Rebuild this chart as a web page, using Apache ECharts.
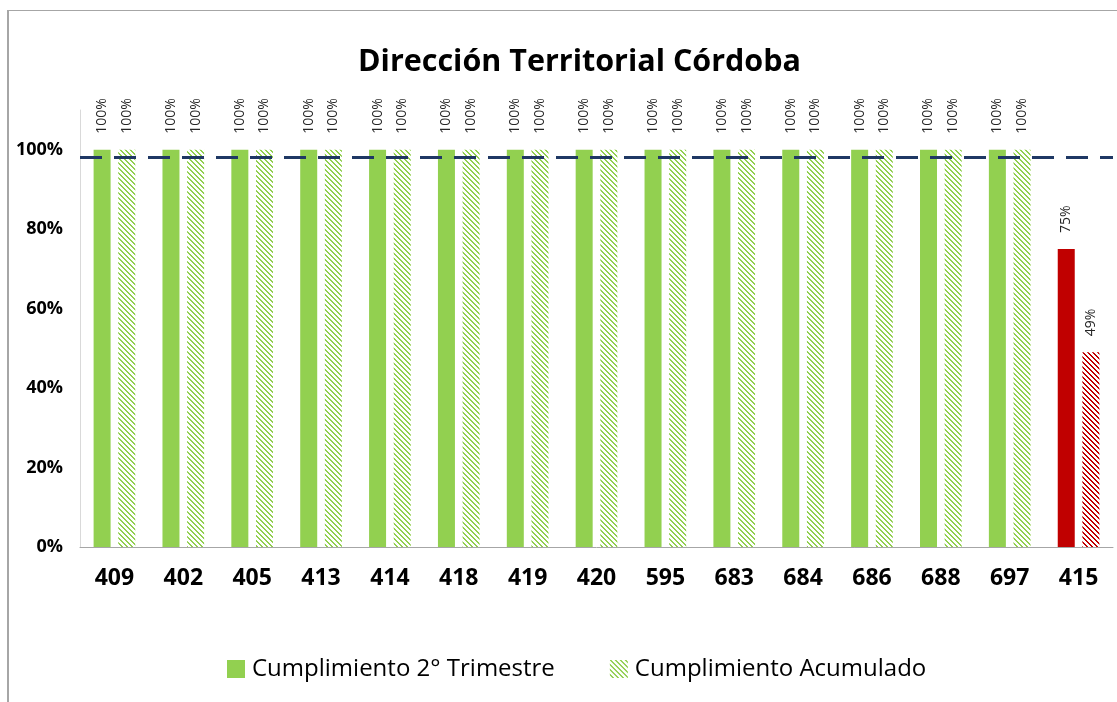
<!DOCTYPE html>
<html>
<head>
<meta charset="utf-8">
<script src="https://cdn.jsdelivr.net/npm/echarts@6/dist/echarts.min.js"></script>
<style>
  html, body { margin: 0; padding: 0; background: #fff; }
  #frame { position: absolute; left: 7px; top: 10px; width: 1120px; height: 700px;
           border-left: 2px solid #a6a6a6; border-top: 1px solid #a6a6a6; }
  #chart { position: absolute; left: 0; top: 0; width: 1117px; height: 702px; }
</style>
</head>
<body>
<div id="frame"></div>
<div id="chart"></div>
<script>
var categories = ['409', '402', '405', '413', '414', '418', '419', '420', '595', '683', '684', '686', '688', '697', '415'];
var trimestre = [1, 1, 1, 1, 1, 1, 1, 1, 1, 1, 1, 1, 1, 1, 0.75];
var acumulado = [1, 1, 1, 1, 1, 1, 1, 1, 1, 1, 1, 1, 1, 1, 0.49];
var metaLine = 0.98;
var yTicks = [0, 0.2, 0.4, 0.6, 0.8, 1.0];

var GREEN = '#92D050';
var RED = '#C00000';

// diagonal hatch pattern, like Excel's "wide downward diagonal"
function hatch(color) {
  var c = document.createElement('canvas');
  c.width = 5;
  c.height = 5;
  var ctx = c.getContext('2d');
  ctx.fillStyle = '#fff';
  ctx.fillRect(0, 0, 5, 5);
  ctx.fillStyle = color;
  for (var y = 0; y < 5; y++) {
    for (var x = 0; x < 5; x++) {
      var d = (x - y + 5) % 5;
      if (d === 0 || d === 1) ctx.fillRect(x, y, 1, 1);
    }
  }
  return { image: c, repeat: 'repeat' };
}

var FONT = '"Open Sans", sans-serif';
var lastIdx = categories.length - 1;

var trimData = trimestre.map(function (v, i) {
  return i === lastIdx ? { value: v, itemStyle: { color: RED } } : v;
});
var acumData = acumulado.map(function (v, i) {
  return i === lastIdx ? { value: v, itemStyle: { color: hatch(RED) } } : v;
});

var barLabel = {
  show: true,
  position: 'top',
  rotate: 90,
  align: 'left',
  verticalAlign: 'middle',
  distance: 16,
  fontFamily: FONT,
  fontSize: 14,
  color: '#262626',
  formatter: function (p) { return Math.round(p.value * 100) + '%'; }
};

var chart = echarts.init(document.getElementById('chart'));
chart.setOption({
  animation: false,
  title: {
    text: 'Dirección Territorial Córdoba',
    left: 353,
    top: 42,
    textStyle: { fontFamily: FONT, fontSize: 30.5, fontWeight: 'bold', color: '#000' }
  },
  legend: {
    top: 652,
    left: 222,
    icon: 'rect',
    itemWidth: 18,
    itemHeight: 18,
    itemGap: 55,
    textStyle: { fontFamily: FONT, fontSize: 24, color: '#000', padding: [0, 0, 0, 2] },
    data: ['Cumplimiento 2° Trimestre', 'Cumplimiento Acumulado']
  },
  grid: { left: 80, right: 4, top: 110, bottom: 155 },
  xAxis: {
    type: 'category',
    data: categories,
    axisTick: { show: false },
    axisLine: { lineStyle: { color: '#a6a6a6', width: 1 } },
    axisLabel: { fontFamily: FONT, fontSize: 23, fontWeight: 'bold', color: '#000', margin: 20 }
  },
  yAxis: {
    type: 'value',
    min: 0,
    max: 1.1,
    interval: 0.2,
    splitLine: { show: false },
    axisTick: { show: false },
    axisLine: { show: true, lineStyle: { color: '#d9d9d9' } },
    axisLabel: {
      showMaxLabel: false,
      fontFamily: FONT, fontSize: 18, fontWeight: 'bold', color: '#000', margin: 17,
      formatter: function (v) { return yTicks.indexOf(Math.round(v * 10) / 10) >= 0 ? Math.round(v * 100) + '%' : ''; }
    }
  },
  series: [
    {
      name: 'Cumplimiento 2° Trimestre',
      type: 'bar',
      data: trimData,
      barWidth: 17,
      barGap: '45%',
      itemStyle: { color: GREEN },
      label: barLabel,
      markLine: {
        silent: true,
        symbol: 'none',
        label: { show: false },
        lineStyle: { color: '#1F3864', width: 3, type: [22, 12] },
        data: [{ yAxis: metaLine }]
      }
    },
    {
      name: 'Cumplimiento Acumulado',
      type: 'bar',
      data: acumData,
      barWidth: 17,
      itemStyle: { color: hatch(GREEN) },
      label: barLabel
    }
  ]
});
</script>
</body>
</html>
